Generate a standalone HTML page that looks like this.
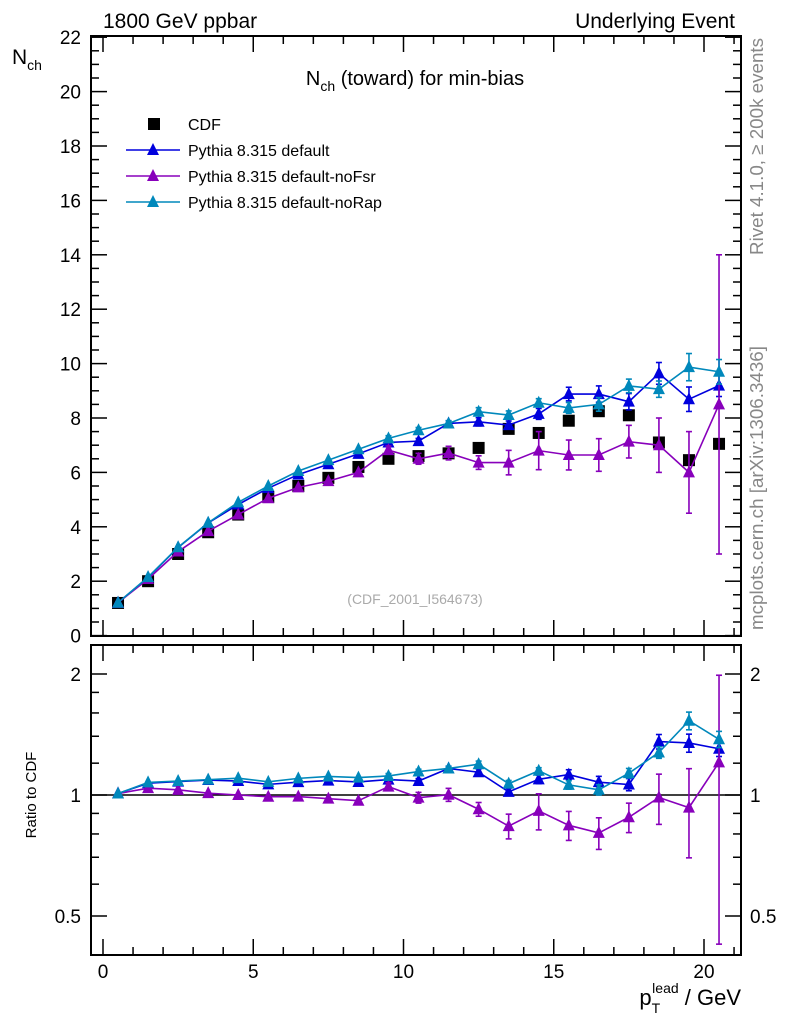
<!DOCTYPE html>
<html><head><meta charset="utf-8"><style>
body{margin:0;background:#fff}
svg{font-family:"Liberation Sans",sans-serif}
</style></head><body>
<svg id="c" width="786" height="1024" xmlns="http://www.w3.org/2000/svg">
<text x="103" y="28" font-size="21">1800 GeV ppbar</text>
<text x="735" y="28" font-size="21" text-anchor="end">Underlying Event</text>
<text x="12" y="64" font-size="21">N<tspan font-size="14" dy="6">ch</tspan></text>
<text x="415" y="85" font-size="20" text-anchor="middle">N<tspan font-size="14" dy="6">ch</tspan><tspan dy="-6"> (toward) for min-bias</tspan></text>
<text x="415" y="604" font-size="14" fill="#aaa" text-anchor="middle">(CDF_2001_I564673)</text>
<text transform="translate(763,255) rotate(-90)" font-size="18.8" fill="#888">Rivet 4.1.0, ≥ 200k events</text>
<text transform="translate(763,630) rotate(-90)" font-size="18.8" fill="#888">mcplots.cern.ch [arXiv:1306.3436]</text>
<text transform="translate(36,795) rotate(-90)" font-size="15" text-anchor="middle">Ratio to CDF</text>
<text x="741" y="1005" font-size="22" text-anchor="end">p<tspan font-size="14" dy="8">T</tspan><tspan font-size="14" dx="-8" dy="-20">lead</tspan><tspan dy="12"> / GeV</tspan></text>
<g id="g"></g>
</svg>
<script>
const xs=[0.5,1.5,2.5,3.5,4.5,5.5,6.5,7.5,8.5,9.5,10.5,11.5,12.5,13.5,14.5,15.5,16.5,17.5,18.5,19.5,20.5];
const cdf=[1.2,2.0,3.0,3.8,4.45,5.1,5.5,5.8,6.2,6.5,6.6,6.7,6.9,7.6,7.45,7.9,8.25,8.1,7.1,6.45,7.05];
const pDef=[1.21,2.14,3.24,4.14,4.82,5.42,5.92,6.3,6.68,7.1,7.15,7.8,7.86,7.74,8.15,8.88,8.88,8.6,9.64,8.69,9.19];
const eDef=[0,0,0,0,0,0,0,0,0,0.1,0.1,0.1,0.15,0.15,0.2,0.25,0.3,0.3,0.4,0.45,0.4];
const pFsr=[1.21,2.08,3.09,3.84,4.45,5.05,5.45,5.68,6.0,6.82,6.5,6.71,6.36,6.36,6.8,6.64,6.64,7.13,7.0,6.0,8.5];
const eFsr=[0,0,0,0,0,0,0,0,0,0.15,0.2,0.25,0.25,0.45,0.7,0.55,0.6,0.6,1.0,1.5,5.5];
const pRap=[1.21,2.15,3.25,4.15,4.9,5.5,6.05,6.45,6.85,7.25,7.55,7.8,8.23,8.11,8.56,8.37,8.5,9.18,9.06,9.87,9.7];
const eRap=[0,0,0,0,0,0,0,0,0,0.1,0.1,0.1,0.15,0.15,0.15,0.2,0.25,0.25,0.3,0.5,0.45];
const yTicks=[0,2,4,6,8,10,12,14,16,18,20,22];
const xTicks=[0,5,10,15,20];
const rTicks=[0.5,1,2];

const NS="http://www.w3.org/2000/svg",G=document.getElementById('g');
const L=91,R=741,T=36,B=636,RT=645,RB=955;
const X=v=>103+(v)*30.05;
const Y=v=>635.6-v*27.2;
const RY=r=>795-Math.log2(r)*121;
function el(t,a,p){const e=document.createElementNS(NS,t);for(const k in a)e.setAttribute(k,a[k]);(p||G).appendChild(e);return e;}
let f=el('rect',{x:L,y:T,width:R-L,height:B-T,fill:'none',stroke:'#000','stroke-width':2});


f=el('rect',{x:L,y:RT,width:R-L,height:RB-RT,fill:'none',stroke:'#000','stroke-width':2});


for(let v=0;v<=22;v+=0.5){const y=Y(v);if(y<T-1)continue;const big=v%2===0;const len=big?16:8;
 el('line',{x1:L,x2:L+len,y1:y,y2:y,stroke:'#000','stroke-width':1.5});el('line',{x1:R,x2:R-len,y1:y,y2:y,stroke:'#000','stroke-width':1.5});}
yTicks.forEach(v=>{const t=el('text',{x:81,y:Y(v)+7,'font-size':19,'text-anchor':'end'});t.textContent=v;
 
 });
for(let v=0;v<=21;v+=1){const x=X(v);const big=v%5===0;const len=big?16:8;
 [[B,-1],[RT,1],[RB,-1],[T,1]].forEach(([y0,d])=>el('line',{x1:x,x2:x,y1:y0,y2:y0+d*len,stroke:'#000','stroke-width':1.5}));}
xTicks.forEach(v=>{const t=el('text',{x:X(v),y:978,'font-size':19,'text-anchor':'middle'});t.textContent=v;
 
 });
[0.4,0.5,0.6,0.7,0.8,0.9,1,2].forEach(r=>{const y=RY(r);const big=rTicks.includes(r);const len=big?16:8;
 el('line',{x1:L,x2:L+len,y1:y,y2:y,stroke:'#000','stroke-width':1.5});el('line',{x1:R,x2:R-len,y1:y,y2:y,stroke:'#000','stroke-width':1.5});});
[1.2,1.4,1.6,1.8].forEach(r=>{const y=RY(r);el('line',{x1:L,x2:L+8,y1:y,y2:y,stroke:'#000','stroke-width':1.5});el('line',{x1:R,x2:R-8,y1:y,y2:y,stroke:'#000','stroke-width':1.5});});
rTicks.forEach(r=>{[[81,'end'],[750,'start']].forEach(([x,a])=>{const t=el('text',{x:x,y:RY(r)+7,'font-size':19,'text-anchor':a});t.textContent=r;
 
 });});
let ref=el('line',{x1:L,x2:R,y1:RY(1),y2:RY(1),stroke:'#000','stroke-width':1.5});


function tri(x,y,c,name){const p=el('polygon',{points:`${x},${y-7} ${x-6},${y+5} ${x+6},${y+5}`,fill:c});
 
 }
function series(vals,errs,c,name,ratio){
 const py=(v,i)=>ratio?RY(v/cdf[i]):Y(v);
 const pts=vals.map((v,i)=>X(xs[i])+','+py(v,i)).join(' ');
 const l=el('polyline',{points:pts,fill:'none',stroke:c,'stroke-width':1.6});
 
 
 vals.forEach((v,i)=>{const x=X(xs[i]);const e=errs[i];
  if(e>0){const y1=py(Math.max(v-e,0.01),i),y2=py(v+e,i);
   el('line',{x1:x,x2:x,y1:y1,y2:y2,stroke:c,'stroke-width':1.6});
   el('line',{x1:x-3,x2:x+3,y1:y1,y2:y1,stroke:c,'stroke-width':1.6});el('line',{x1:x-3,x2:x+3,y1:y2,y2:y2,stroke:c,'stroke-width':1.6});}
  tri(x,py(v,i),c,name+(ratio?'-ratio-point':'-point'));});}
cdf.forEach((v,i)=>{const s=el('rect',{x:X(xs[i])-6,y:Y(v)-6,width:12,height:12,fill:'#000'});
 
 });
series(pDef,eDef,'#0000dd','pythia-default',false);
series(pFsr,eFsr,'#8800bb','pythia-nofsr',false);
series(pRap,eRap,'#0088bb','pythia-norap',false);
series(pDef,eDef,'#0000dd','pythia-default',true);
series(pFsr,eFsr,'#8800bb','pythia-nofsr',true);
series(pRap,eRap,'#0088bb','pythia-norap',true);
const leg=[['CDF','#000'],['Pythia 8.315 default','#0000dd'],['Pythia 8.315 default-noFsr','#8800bb'],['Pythia 8.315 default-noRap','#0088bb']];
leg.forEach((d,i)=>{const y=124+i*26;
 if(i===0){const s=el('rect',{x:148,y:y-6,width:12,height:12,fill:'#000'});}
 else{el('line',{x1:126,x2:180,y1:y,y2:y,stroke:d[1],'stroke-width':1.6});tri(153,y,d[1],'legend-marker');}
 const t=el('text',{x:188,y:y+6,'font-size':16});t.textContent=d[0];
 
 });
</script>
</body></html>
